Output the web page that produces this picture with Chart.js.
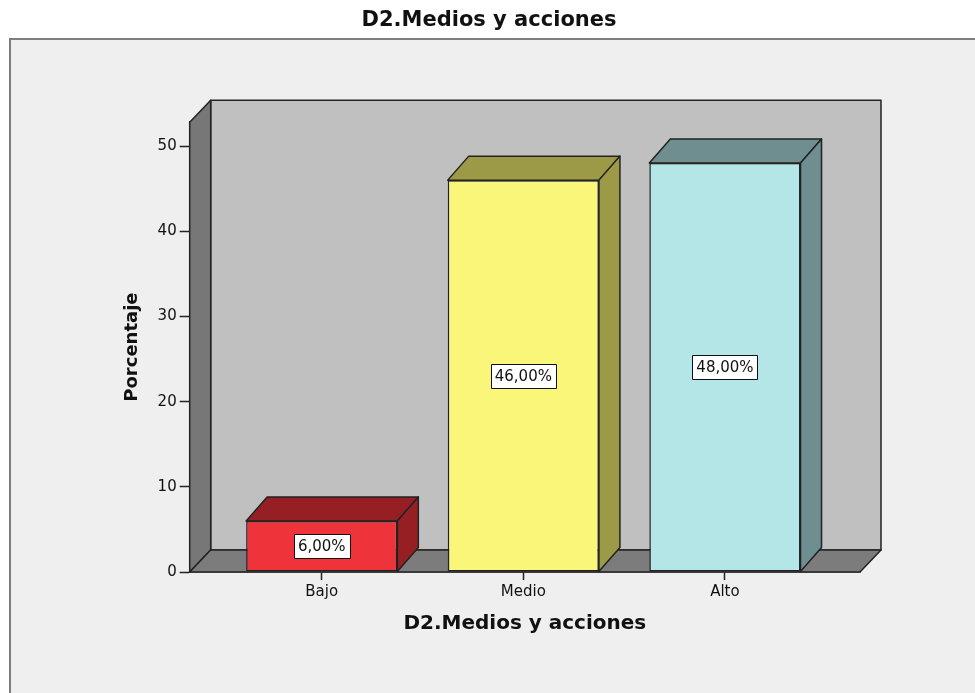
<!DOCTYPE html>
<html lang="es">
<head>
<meta charset="utf-8">
<title>D2.Medios y acciones</title>
<script src="https://cdn.jsdelivr.net/npm/chart.js@4.4.1/dist/chart.umd.min.js"></script>
<style>
  html, body { margin: 0; padding: 0; background: #ffffff; }
  #wrap { width: 975px; height: 693px; }
</style>
</head>
<body>
<div id="wrap"><canvas id="grafico" width="975" height="693"></canvas></div>
<script>
// --- datos ---
const categorias = ['Bajo', 'Medio', 'Alto'];
const porcentajes = [6, 46, 48];
const ticksY = [0, 10, 20, 30, 40, 50];
const coloresFrente = ['#ef333b', '#f9f679', '#b4e6e8'];
const coloresLado = ['#961f24', '#9c9947', '#6f8e8f'];

// profundidad del efecto 3D (pixeles)
const PROF_X = 21;
const PROF_Y = 22;
const PROF_BARRA_Y = 24;
const LINEA = '#222222';

function poligono(ctx, puntos, relleno) {
    ctx.beginPath();
    ctx.moveTo(puntos[0][0], puntos[0][1]);
    for (let i = 1; i < puntos.length; i++) ctx.lineTo(puntos[i][0], puntos[i][1]);
    ctx.closePath();
    ctx.fillStyle = relleno;
    ctx.fill();
    ctx.stroke();
}

// marco gris de fondo
const marcoPlugin = {
    id: 'marco',
    beforeDraw(chart) {
        const { ctx, width, height } = chart;
        ctx.save();
        ctx.fillStyle = '#ffffff';
        ctx.fillRect(0, 0, width, height);
        ctx.fillStyle = '#efefef';
        ctx.fillRect(10, 39, width, height);
        ctx.strokeStyle = '#7d7d7d';
        ctx.lineWidth = 2;
        ctx.beginPath();
        ctx.moveTo(10, height);
        ctx.lineTo(10, 39);
        ctx.lineTo(width, 39);
        ctx.stroke();
        ctx.restore();
    }
};

// paredes y suelo de la caja 3D
const paredesPlugin = {
    id: 'paredes',
    beforeDatasetsDraw(chart) {
        const { ctx, chartArea: a } = chart;
        ctx.save();
        ctx.strokeStyle = LINEA;
        ctx.lineWidth = 1.5;
        ctx.lineJoin = 'round';
        // pared del fondo
        poligono(ctx, [
            [a.left + PROF_X, a.top - PROF_Y], [a.right + PROF_X, a.top - PROF_Y],
            [a.right + PROF_X, a.bottom - PROF_Y], [a.left + PROF_X, a.bottom - PROF_Y]
        ], '#c0c0c0');
        // pared izquierda
        poligono(ctx, [
            [a.left, a.top], [a.left + PROF_X, a.top - PROF_Y],
            [a.left + PROF_X, a.bottom - PROF_Y], [a.left, a.bottom]
        ], '#777777');
        // suelo
        poligono(ctx, [
            [a.left, a.bottom], [a.left + PROF_X, a.bottom - PROF_Y],
            [a.right + PROF_X, a.bottom - PROF_Y], [a.right, a.bottom]
        ], '#7c7c7c');
        ctx.restore();
    }
};

// caras superior y lateral de cada barra + etiquetas
const barras3dPlugin = {
    id: 'barras3d',
    afterDatasetsDraw(chart) {
        const { ctx } = chart;
        const meta = chart.getDatasetMeta(0);
        ctx.save();
        ctx.strokeStyle = LINEA;
        ctx.lineWidth = 1.5;
        ctx.lineJoin = 'round';
        meta.data.forEach((bar, i) => {
            const { x, y, base, width } = bar.getProps(['x', 'y', 'base', 'width'], true);
            const izq = x - width / 2;
            const der = x + width / 2;
            poligono(ctx, [[izq, y], [izq + PROF_X, y - PROF_BARRA_Y], [der + PROF_X, y - PROF_BARRA_Y], [der, y]], coloresLado[i]);
            poligono(ctx, [[der, y], [der + PROF_X, y - PROF_BARRA_Y], [der + PROF_X, base - PROF_BARRA_Y], [der, base]], coloresLado[i]);
        });

        // etiquetas de valor
        ctx.font = '15px "DejaVu Sans"';
        ctx.textAlign = 'center';
        ctx.textBaseline = 'middle';
        ctx.lineWidth = 1;
        meta.data.forEach((bar, i) => {
            const { x, y, base } = bar.getProps(['x', 'y', 'base'], true);
            const texto = porcentajes[i].toFixed(2).replace('.', ',') + '%';
            const cy = (y + base) / 2;
            const w = ctx.measureText(texto).width + 8;
            const h = 24;
            ctx.fillStyle = '#ffffff';
            ctx.fillRect(Math.round(x - w / 2) + 0.5, Math.round(cy - h / 2) + 0.5, Math.round(w), h);
            ctx.strokeStyle = '#111111';
            ctx.strokeRect(Math.round(x - w / 2) + 0.5, Math.round(cy - h / 2) + 0.5, Math.round(w), h);
            ctx.fillStyle = '#111111';
            ctx.fillText(texto, x, cy + 1);
        });
        ctx.restore();
    }
};

const ctx = document.getElementById('grafico').getContext('2d');
new Chart(ctx, {
    type: 'bar',
    data: {
        datasets: [{
            data: categorias.map((c, i) => ({ x: i, y: porcentajes[i] })),
            backgroundColor: coloresFrente,
            borderColor: LINEA,
            borderWidth: 1.5,
            borderSkipped: false,
            barPercentage: 0.75,
            categoryPercentage: 1
        }]
    },
    options: {
        responsive: false,
        animation: false,
        devicePixelRatio: 1,
        layout: { padding: { left: 118, right: 115, top: 0, bottom: 53 } },
        plugins: {
            legend: { display: false },
            tooltip: { enabled: false },
            title: {
                display: true,
                text: 'D2.Medios y acciones',
                color: '#111111',
                font: { family: 'DejaVu Sans', size: 21, weight: 'bold' },
                padding: { top: 8, bottom: 89 }
            }
        },
        scales: {
            x: {
                type: 'linear',
                min: -0.655,
                max: 2.67,
                offset: false,
                afterBuildTicks: s => { s.ticks = categorias.map((c, i) => ({ value: i })); },
                ticks: {
                    callback: v => categorias[v],
                    color: '#111111',
                    font: { family: 'DejaVu Sans', size: 15 },
                    padding: 3,
                    maxRotation: 0,
                    autoSkip: false
                },
                grid: { drawOnChartArea: false, offset: false, tickLength: 8, tickColor: LINEA, tickWidth: 1.5 },
                border: { color: LINEA, width: 1.5 },
                title: {
                    display: true,
                    text: 'D2.Medios y acciones',
                    color: '#111111',
                    font: { family: 'DejaVu Sans', size: 20, weight: 'bold' },
                    padding: { top: 8, bottom: 4 }
                }
            },
            y: {
                min: 0,
                max: 52.8,
                afterBuildTicks: s => { s.ticks = ticksY.map(v => ({ value: v })); },
                ticks: {
                    color: '#111111',
                    font: { family: 'DejaVu Sans', size: 15 },
                    padding: 3
                },
                grid: { drawOnChartArea: false, tickLength: 10, tickColor: LINEA, tickWidth: 1.5 },
                border: { color: LINEA, width: 1.5 },
                title: {
                    display: true,
                    text: 'Porcentaje',
                    color: '#111111',
                    font: { family: 'DejaVu Sans', size: 18, weight: 'bold' },
                    padding: { top: 4, bottom: 11 }
                }
            }
        }
    },
    plugins: [marcoPlugin, paredesPlugin, barras3dPlugin]
});
</script>
</body>
</html>
